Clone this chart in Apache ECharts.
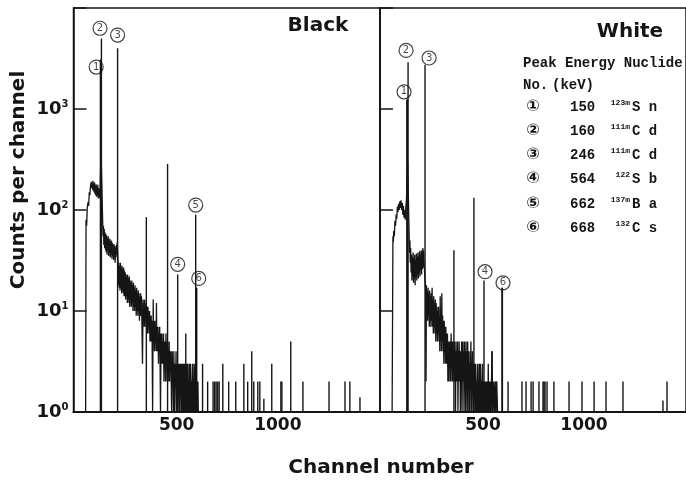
<!DOCTYPE html>
<html>
<head>
<meta charset="utf-8">
<script src="https://cdn.jsdelivr.net/npm/echarts@6/dist/echarts.min.js"></script>
<style>
  html, body { margin: 0; padding: 0; background: #fff; }
  #main { width: 686px; height: 481px; }
</style>
</head>
<body>
<div id="main"></div>
<script>
var ink = "#151515";
var xTickLabels = [500, 1000];
var panelTitles = ["Black", "White"];

// continuum, [channel, counts]
var blackCont = [
  [50, 1], [52, 80], [55, 70], [58, 105], [62, 120], [65, 110], [68, 150], [71, 140], [74, 172], [78, 190],
  [80, 165], [82, 185], [84, 160], [86, 195], [88, 155], [90, 180], [92, 150], [94, 188], [96, 145], [98, 175],
  [100, 140], [102, 180], [104, 135], [106, 170], [108, 140], [110, 178], [112, 130], [114, 165], [116, 140],
  [118, 150], [120, 130], [122, 170], [126, 400],
  [134, 80], [136, 55], [138, 70], [140, 45], [142, 65], [144, 42], [146, 60], [148, 40], [150, 58], [152, 38],
  [154, 56], [156, 36], [158, 52], [160, 40], [162, 55], [164, 35], [166, 50], [168, 38], [170, 52], [172, 34],
  [174, 48], [176, 36], [178, 50], [180, 33], [182, 47], [184, 35], [186, 45], [188, 32], [190, 46], [192, 34],
  [194, 44], [196, 30], [198, 42], [200, 34], [202, 45], [204, 36], [206, 48],
  [210, 32], [212, 18], [214, 30], [216, 17], [218, 28], [220, 16], [222, 30], [224, 17], [226, 27], [228, 15],
  [230, 28], [232, 16], [234, 26], [236, 15], [238, 27], [240, 14], [242, 25], [244, 14], [246, 24], [248, 13],
  [250, 23], [252, 14], [254, 22], [256, 12], [258, 23], [260, 13], [262, 21], [264, 12], [266, 22], [268, 11],
  [270, 20], [272, 12], [274, 19], [276, 11], [278, 20], [280, 12], [282, 18], [284, 10], [286, 19], [288, 11],
  [290, 17], [292, 10], [294, 18], [296, 11], [298, 16], [300, 9], [302, 17], [304, 10], [306, 15], [308, 9],
  [310, 16], [312, 10], [314, 15], [316, 8], [318, 14], [320, 9], [322, 15], [324, 9], [326, 14], [328, 8],
  [331, 3], [334, 13], [336, 8], [338, 12], [340, 7], [342, 13], [344, 8], [346, 11], [348, 7], [350, 12],
  [352, 7], [354, 11], [356, 6], [358, 11], [360, 7], [362, 10], [364, 6], [366, 10], [368, 5], [370, 9],
  [372, 5], [374, 9], [376, 5], [378, 8], [381, 1], [384, 13], [386, 5], [388, 8], [390, 4], [392, 8],
  [394, 5], [396, 7], [398, 4], [400, 12], [402, 4], [404, 7], [406, 4], [408, 7], [410, 3], [412, 6],
  [414, 4], [416, 7], [418, 3], [420, 1], [423, 6], [425, 3], [427, 6], [429, 3], [431, 5], [433, 3],
  [435, 6], [437, 2], [439, 5], [441, 3], [443, 5], [445, 2], [447, 6], [449, 3], [451, 5], [453, 2],
  [455, 5], [457, 3], [459, 4], [461, 2], [463, 5], [465, 2], [467, 4], [469, 3], [471, 4], [473, 2],
  [475, 1], [478, 4], [480, 2], [482, 3], [484, 1], [486, 4], [488, 2], [490, 1], [493, 3], [495, 2],
  [497, 4], [499, 1], [501, 3], [503, 2], [505, 1], [507, 3], [509, 2], [511, 3], [513, 1], [515, 3],
  [517, 2], [519, 3], [521, 1], [523, 2], [525, 3], [527, 1], [529, 3], [531, 2], [533, 1], [535, 3],
  [537, 1], [539, 2], [541, 3], [543, 1], [545, 2], [547, 1], [549, 3], [551, 1], [553, 2], [555, 3],
  [557, 1], [559, 2], [561, 1], [563, 3], [565, 1], [567, 2], [569, 3], [571, 1], [573, 2], [575, 1],
  [577, 2], [579, 3], [581, 1], [583, 2], [585, 1], [587, 3], [589, 1], [591, 2], [593, 1], [595, 2],
  [597, 3], [599, 1], [601, 2], [603, 1], [605, 2], [607, 1], [610, 1]
];
var whiteCont = [
  [50, 1], [54, 55], [56, 48], [58, 62], [61, 55], [64, 78], [67, 70], [70, 90], [73, 82], [76, 108],
  [79, 95], [82, 115], [85, 100], [88, 122], [91, 105], [94, 125], [97, 100], [100, 118], [103, 90],
  [106, 110], [109, 84], [112, 100], [115, 80], [118, 108], [121, 125], [127, 300],
  [134, 60], [136, 38], [138, 50], [140, 30], [142, 42], [144, 24], [146, 36], [148, 20], [150, 34], [152, 22],
  [154, 38], [156, 19], [158, 33], [160, 21], [162, 36], [164, 18], [166, 32], [168, 22], [170, 37], [172, 20],
  [174, 34], [176, 23], [178, 38], [180, 21], [182, 35], [184, 24], [186, 39], [188, 22], [190, 36], [192, 25],
  [194, 40], [196, 23], [198, 38], [200, 26], [202, 42], [204, 27], [206, 40], [208, 30],
  [216, 16], [218, 2], [220, 18], [222, 9], [224, 16], [226, 8], [228, 17], [230, 9], [232, 15], [234, 7],
  [236, 16], [238, 8], [240, 14], [242, 7], [244, 15], [246, 8], [248, 17], [250, 7], [252, 13], [254, 6],
  [256, 14], [258, 7], [260, 12], [262, 6], [264, 13], [266, 5], [268, 12], [270, 6], [272, 11], [274, 5],
  [276, 10], [278, 6], [280, 11], [282, 5], [284, 9], [286, 4], [288, 14], [290, 5], [292, 10], [294, 4],
  [296, 15], [298, 5], [300, 9], [302, 4], [304, 8], [306, 3], [308, 8], [310, 4], [312, 7], [314, 3],
  [316, 7], [318, 3], [320, 6], [322, 3], [324, 6], [326, 2], [328, 5], [330, 3], [332, 2], [334, 5],
  [336, 3], [338, 5], [340, 2], [342, 6], [344, 3], [346, 5], [348, 2], [350, 5], [352, 3], [354, 4],
  [356, 2], [358, 5], [360, 2], [362, 4], [364, 1], [366, 5], [368, 2], [370, 4], [372, 2], [374, 5],
  [376, 1], [378, 4], [380, 2], [382, 5], [384, 2], [386, 4], [388, 1], [390, 4], [392, 2], [394, 5],
  [396, 1], [398, 3], [400, 5], [402, 2], [404, 4], [406, 1], [408, 5], [410, 2], [412, 4], [414, 1],
  [416, 5], [418, 2], [420, 4], [422, 1], [424, 5], [426, 2], [428, 4], [430, 1], [432, 3], [434, 1],
  [436, 4], [438, 2], [440, 5], [442, 1], [444, 3], [446, 2], [448, 4], [450, 1], [452, 3], [454, 1],
  [456, 3], [458, 2], [460, 3], [462, 1], [464, 3], [466, 1], [468, 2], [470, 1], [472, 2], [474, 3],
  [476, 1], [478, 2], [480, 1], [482, 3], [484, 1], [486, 2], [488, 3], [490, 1], [492, 2], [494, 1],
  [496, 2], [498, 3], [500, 1], [502, 2], [504, 1], [506, 2], [508, 1], [510, 2], [512, 1], [514, 2],
  [516, 1], [518, 2], [520, 1], [522, 2], [524, 1], [526, 3], [528, 1], [530, 2], [532, 1], [534, 2],
  [536, 1], [538, 2], [540, 1], [544, 4], [548, 1], [552, 2], [556, 1], [560, 2], [564, 1], [568, 2],
  [572, 1]
];

// sharp lines (peaks and single counts), [channel, counts]
var blackLines = [
  [123, 3000], [125, 3100], [128, 5000], [208, 4000], [350, 85], [455, 285], [505, 23], [545, 6],
  [594, 90], [597, 17], [599, 17], [628, 3], [653, 2], [680, 2], [688, 2], [695, 2], [703, 2], [710, 2],
  [728, 3], [757, 2], [792, 2], [832, 3], [851, 2], [871, 4], [881, 2], [901, 2], [911, 2], [931, 1.35],
  [970, 3], [1015, 2], [1020, 2], [1064, 5], [1124, 2], [1253, 2], [1332, 2], [1356, 2], [1406, 1.4]
];
var whiteLines = [
  [123, 1230], [125, 1250], [129, 2900], [213, 2750], [356, 40], [455, 132], [505, 20], [545, 4],
  [564, 2], [594, 17], [596, 17], [624, 2], [693, 2], [713, 2], [738, 2], [748, 2], [777, 2], [797, 2],
  [802, 2], [807, 2], [817, 2], [851, 2], [926, 2], [990, 2], [1050, 2], [1109, 2], [1193, 2],
  [1391, 1.3], [1411, 2]
];

// peak labels, [channel, counts, number]
var blackMarks = [[102, 2600, "1"], [121, 6300, "2"], [208, 5400, "3"], [505, 29, "4"], [594, 112, "5"], [609, 21, "6"]];
var whiteMarks = [[109, 1480, "1"], [119, 3800, "2"], [233, 3200, "3"], [510, 24.5, "4"], [599, 19, "6"]];

// peak table
var peakNo = ["\u2460", "\u2461", "\u2462", "\u2463", "\u2464", "\u2465"];
var peakEnergy = ["150", "160", "246", "564", "662", "668"];
var nuclideMass = ["123m", "111m", "111m", "122", "137m", "132"];
var nuclideElem = ["S n", "C d", "C d", "S b", "B a", "C s"];

var chartDom = document.getElementById("main");
var myChart = echarts.init(chartDom);

var sans = "DejaVu Sans";
var mono = "Liberation Mono";

function xAxisFor(i) {
  return {
    gridIndex: i, type: "value", min: -10, max: 1505,
    axisLine: { show: true, onZero: false, lineStyle: { color: ink, width: 2 } },
    axisTick: { show: false },
    splitLine: { show: false },
    axisLabel: {
      customValues: xTickLabels, margin: 5,
      color: ink, fontFamily: sans, fontWeight: "bold", fontSize: 17,
      formatter: function (v) { return String(v); }
    }
  };
}

function yAxisFor(i) {
  return {
    gridIndex: i, type: "log", logBase: 10, min: 1, max: 10000,
    axisLine: { show: true, onZero: false, lineStyle: { color: ink, width: 1.5 } },
    axisTick: { show: true, inside: true, length: 13, lineStyle: { color: ink, width: 1.5 } },
    minorTick: { show: false },
    splitLine: { show: false },
    axisLabel: {
      show: i === 0, margin: 5,
      formatter: function (v) {
        var e = Math.round(Math.log10(v));
        return e >= 4 ? "" : "{b|10}{s|" + e + "}";
      },
      rich: {
        b: { fontFamily: sans, fontWeight: "bold", fontSize: 18, color: ink },
        s: { fontFamily: sans, fontWeight: "bold", fontSize: 10, color: ink, padding: [0, 0, 9, 0] }
      }
    }
  };
}

function lineItem(params, api) {
  var p0 = api.coord([api.value(0), 1]);
  var p1 = api.coord([api.value(0), api.value(1)]);
  return {
    type: "line",
    shape: { x1: p0[0], y1: p0[1], x2: p1[0], y2: p1[1] },
    style: { stroke: ink, lineWidth: 1.4 }
  };
}

function panelSeries(i, cont, lines, marks) {
  return [
    {
      type: "scatter", xAxisIndex: i, yAxisIndex: i, z: 2,
      data: marks, symbol: "circle", symbolSize: 14,
      itemStyle: { color: "#fff", borderColor: ink, borderWidth: 1.2 },
      label: {
        show: true, position: "inside", color: ink, fontFamily: sans, fontSize: 10,
        formatter: function (p) { return p.value[2]; }
      },
      silent: true
    },
    {
      type: "line", xAxisIndex: i, yAxisIndex: i, z: 3,
      data: cont, showSymbol: false, silent: true,
      lineStyle: { color: ink, width: 1.3 }
    },
    {
      type: "custom", xAxisIndex: i, yAxisIndex: i, z: 4,
      data: lines, renderItem: lineItem, encode: { x: 0, y: 1 }, silent: true
    }
  ];
}

var graphics = [
  { type: "text", x: 318, y: 26, style: { text: panelTitles[0], fill: ink, fontFamily: sans, fontWeight: "bold", fontSize: 20, align: "center", verticalAlign: "middle" } },
  { type: "text", x: 630, y: 32, style: { text: panelTitles[1], fill: ink, fontFamily: sans, fontWeight: "bold", fontSize: 20, align: "center", verticalAlign: "middle" } },
  { type: "text", x: 19, y: 180, rotation: Math.PI / 2, style: { text: "Counts per channel", fill: ink, fontFamily: sans, fontWeight: "bold", fontSize: 20, align: "center", verticalAlign: "middle" } },
  { type: "text", x: 381, y: 468, style: { text: "Channel number", fill: ink, fontFamily: sans, fontWeight: "bold", fontSize: 20, align: "center", verticalAlign: "middle" } },
  { type: "text", x: 523, y: 63, style: { text: "Peak Energy Nuclide", fill: ink, fontFamily: mono, fontWeight: "bold", fontSize: 14, verticalAlign: "middle" } },
  { type: "text", x: 523, y: 85, style: { text: "No.", fill: ink, fontFamily: mono, fontWeight: "bold", fontSize: 14, verticalAlign: "middle" } },
  { type: "text", x: 552, y: 85, style: { text: "(keV)", fill: ink, fontFamily: mono, fontWeight: "bold", fontSize: 14, verticalAlign: "middle" } }
];
var rowY = [107, 131, 155, 179, 204, 228];
for (var k = 0; k < peakNo.length; k++) {
  graphics.push({ type: "text", x: 533, y: rowY[k], style: { text: peakNo[k], fill: ink, fontFamily: sans, fontWeight: "bold", fontSize: 16, align: "center", verticalAlign: "middle" } });
  graphics.push({ type: "text", x: 570, y: rowY[k], style: { text: peakEnergy[k], fill: ink, fontFamily: mono, fontWeight: "bold", fontSize: 14, verticalAlign: "middle" } });
  graphics.push({ type: "text", x: 630, y: rowY[k] - 4, style: { text: nuclideMass[k], fill: ink, fontFamily: mono, fontWeight: "bold", fontSize: 8, align: "right", verticalAlign: "middle" } });
  graphics.push({ type: "text", x: 632, y: rowY[k], style: { text: nuclideElem[k], fill: ink, fontFamily: mono, fontWeight: "bold", fontSize: 14, verticalAlign: "middle" } });
}

var option = {
  backgroundColor: "#fff",
  animation: false,
  grid: [
    { left: 73.5, top: 8, width: 306.5, height: 404, show: true, borderColor: ink, borderWidth: 1.5 },
    { left: 380, top: 8, width: 306, height: 404, show: true, borderColor: ink, borderWidth: 1.5 }
  ],
  xAxis: [xAxisFor(0), xAxisFor(1)],
  yAxis: [yAxisFor(0), yAxisFor(1)],
  series: panelSeries(0, blackCont, blackLines, blackMarks).concat(panelSeries(1, whiteCont, whiteLines, whiteMarks)),
  graphic: graphics
};

option && myChart.setOption(option);
</script>
</body>
</html>
